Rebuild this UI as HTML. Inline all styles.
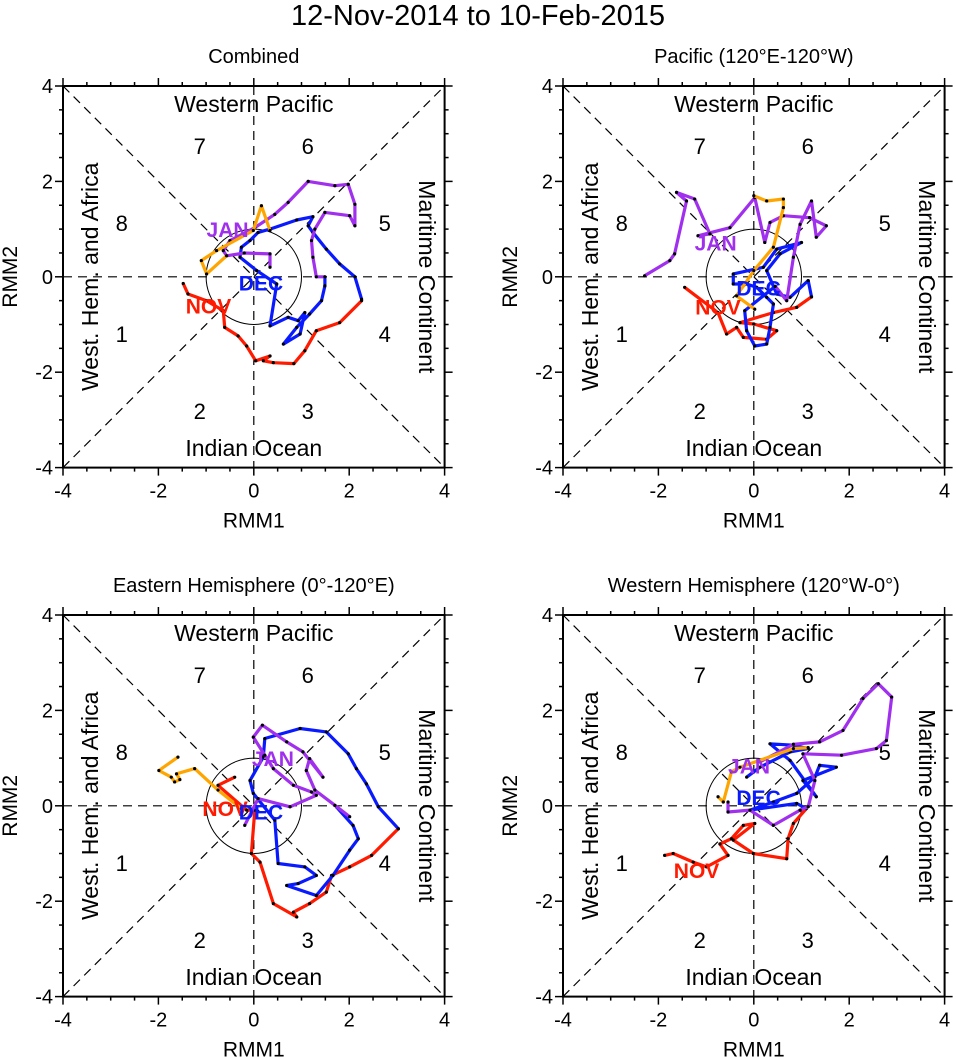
<!DOCTYPE html>
<html><head><meta charset="utf-8"><style>
body{margin:0;background:#fff;}
svg{display:block;font-family:"Liberation Sans",Arial,sans-serif;}
</style></head><body>
<svg id="chart" width="956" height="1057" viewBox="0 0 956 1057">
<text x="478" y="25" text-anchor="middle" font-size="29">12-Nov-2014 to 10-Feb-2015</text>
</svg>
<script>
const panelTitles=["Combined","Pacific (120°E-120°W)","Eastern Hemisphere (0°-120°E)","Western Hemisphere (120°W-0°)"];
const tickValues=[-4,-2,0,2,4];
const monthNames=["NOV","DEC","JAN",""];
const monthColors=["#ff1a00","#0a1aff","#a030ee","#ffa500"];
// panel 1
const p1Nov=[[-1.48,-0.14],[-1.38,-0.36],[-0.99,-0.5],[-0.64,-0.71],[-0.61,-1.06],[-0.33,-1.24],[-0.15,-1.45],[0.04,-1.76],[0.34,-1.66],[0.2,-1.76],[0.41,-1.8],[0.84,-1.82],[1.07,-1.55],[1.31,-1.13],[1.8,-0.96],[2.26,-0.5]];
const p1Dec=[[2.26,-0.47],[2.12,0],[1.8,0.27],[1.52,0.58],[1.24,0.93],[1.14,1.07],[1.24,1.26],[0.9,1.19],[0.34,1.0],[0.09,0.93],[-0.08,0.76],[-0.26,0.62],[-0.29,0.41],[0.06,0.13],[0.48,-0.15],[0.34,-1.03],[0.72,-0.85],[0.93,-0.92],[1.07,-0.75],[0.97,-1.2],[0.62,-1.41],[0.9,-1.06],[1.17,-0.78],[1.42,-0.5],[1.49,-0.19],[1.49,0]];
const p1Jan=[[1.49,0],[1.31,0],[1.24,0.41],[1.21,0.76],[1.28,1.0],[1.49,1.35],[2.01,1.28],[2.12,1.07],[2.12,1.52],[1.98,1.94],[1.7,1.91],[1.14,2.0],[0.72,1.56],[0.44,1.31],[0.02,1.03],[-0.5,0.76],[-0.64,0.55],[-0.57,0.44],[-0.2,0.5],[0.34,0.48],[0.34,0.2]];
const p1Feb=[[-0.57,0.44],[-0.99,0.06],[-1.1,0.34],[-0.78,0.55],[-0.01,0.97],[0.16,1.49],[0.34,0.97]];
// panel 2
const p2Nov=[[-1.45,-0.22],[-0.75,-0.75],[-0.57,-1.2],[-0.36,-1.06],[-0.22,-1.27],[0.27,-1.31],[0.48,-1.13],[0,-0.99],[-0.29,-0.96],[0.41,-0.75],[0.9,-0.64],[1.21,-0.42]];
const p2Dec=[[1.21,-0.42],[1.14,-0.08],[0.76,-0.43],[0.48,-0.36],[0.27,0.13],[0.55,0.48],[1.0,0.72],[0.48,0.58],[0.2,0.2],[-0.43,0.06],[-0.43,-0.15],[-0.15,-0.15],[0.06,-0.22],[0.27,-0.43],[0.41,-0.57],[0.34,-1.06],[0.27,-1.41],[0.02,-1.45],[-0.15,-1.13],[-0.19,-0.71],[0.45,-0.2]];
const p2Jan=[[0.45,-0.2],[0.69,-0.5],[0.83,0.41],[0.97,1.1],[1.21,1.59],[1.31,0.83],[1.52,1.07],[1.17,1.24],[0.62,1.28],[0.34,1.14],[0.23,0.72],[0.02,1.66],[-0.5,1.03],[-1.17,0.86],[-0.92,0.9],[-1.24,1.63],[-1.62,1.77],[-1.41,1.59],[-1.66,0.48],[-1.76,0.34],[-2.29,0.02]];
const p2Feb=[[0.02,-0.68],[-0.36,-0.4],[0,0.13],[0.41,0.62],[0.62,1.45],[0.62,1.63],[0.27,1.59],[0,1.7]];
// panel 3
const p3Nov=[[-0.4,0.6],[-0.75,0.43],[-0.15,-0.09],[0.02,-0.09],[-0.05,-1.0],[0.13,-1.18],[0.41,-2.05],[0.9,-2.33],[0.83,-2.23],[1.17,-2.05],[1.52,-1.81],[1.63,-1.46],[2.01,-1.28],[2.47,-1.04],[3.03,-0.48]];
const p3Dec=[[3.03,-0.48],[2.61,-0.02],[2.36,0.46],[2.15,0.78],[1.98,1.09],[1.52,1.55],[0.97,1.62],[0.23,1.41],[0.2,1.02],[-0.08,0.53],[-0.01,0.26],[0.44,-0.3],[0.51,-1.21],[1.07,-1.28],[1.31,-1.46],[0.93,-1.63],[0.69,-1.67],[1.31,-1.88],[1.66,-1.46],[2.01,-0.93],[2.19,-0.69],[2.08,-0.41],[1.73,-0.02]];
const p3Jan=[[-0.19,-0.41],[0.09,0.15],[0.76,-0.02],[1.31,0.22],[1.21,0.29],[0.83,0.43],[0.41,0.78],[0.23,1.06],[-0.01,1.44],[0.18,1.69],[0.69,1.34],[1.03,1.13],[1.45,0.6],[1.17,0.99],[1.1,0.74],[1.28,0.33],[1.7,0.01],[2.01,-0.23]];
const p3Feb=[[-1.59,1.02],[-1.99,0.74],[-1.73,0.6],[-1.66,0.5],[-1.55,0.55],[-1.62,0.67],[-1.24,0.78],[-0.75,0.33],[-0.26,-0.06]];
// panel 4
const p4Nov=[[-1.87,-1.04],[-1.69,-1.0],[-1.27,-1.18],[-0.99,-1.28],[-0.54,-1.04],[-0.71,-0.8],[-0.47,-0.69],[-0.22,-0.41],[0.02,-0.37],[-0.43,-0.72],[-0.01,-1.0],[0.69,-1.11],[0.72,-0.69],[0.83,-0.37],[1.1,-0.06]];
const p4Dec=[[1.1,-0.06],[0.9,0.05],[-0.08,-0.09],[0.41,0.08],[0.9,0.26],[1.28,0.6],[1.38,0.85],[1.73,0.81],[1.03,0.53],[1.31,0.19],[0.76,0.95],[0.34,1.3],[0.83,1.27],[1.14,1.2],[0.76,1.13],[0.13,0.81],[-0.15,0.6]];
const p4Jan=[[-0.54,0.08],[-0.54,-0.13],[-0.08,-0.09],[0.41,-0.41],[0.97,-0.09],[1.14,-0.02],[1.28,0.53],[1.03,1.09],[1.84,1.06],[2.57,1.2],[2.78,1.37],[2.89,2.28],[2.61,2.56],[2.29,2.25],[1.87,1.58],[1.38,1.34],[0.83,1.29],[0.13,0.92]];
const p4Feb=[[-0.75,0.19],[-0.64,0.08],[-0.47,0.71],[-0.29,0.81],[0.83,1.2],[1.14,1.22]];
const series=[[p1Nov,p1Dec,p1Jan,p1Feb],[p2Nov,p2Dec,p2Jan,p2Feb],[p3Nov,p3Dec,p3Jan,p3Feb],[p4Nov,p4Dec,p4Jan,p4Feb]];
const monthLabelPos=[[[-0.95,-0.6],[0.15,-0.12],[-0.55,1.0]],[[-0.75,-0.62],[0.1,-0.22],[-0.8,0.72]],[[-0.6,-0.05],[0.15,-0.12],[0.4,1.0]],[[-1.2,-1.35],[0.1,0.18],[-0.1,0.85]]];

const NS="http://www.w3.org/2000/svg";
const svg=document.getElementById("chart");
function mk(tag,attrs,parent,txt){const e=document.createElementNS(NS,tag);for(const k in attrs)e.setAttribute(k,attrs[k]);if(txt!==undefined)e.textContent=txt;(parent||svg).appendChild(e);return e;}
const S=47.7;
const origins=[[63,86],[563,86],[63,615],[563,615]];
origins.forEach((o,pi)=>{
  const L=o[0],T=o[1],W=8*S,cx=L+4*S,cy=T+4*S;
  const sx=v=>cx+v*S, sy=v=>cy-v*S;
  const g=mk("g",{});
  
  
  let t=mk("text",{x:cx,y:T-23,"text-anchor":"middle","font-size":20},g,panelTitles[pi]);
  
  
  const dash={stroke:"#000","stroke-width":1.2,"stroke-dasharray":"9,6",fill:"none"};
  mk("line",Object.assign({x1:L,y1:T,x2:L+W,y2:T+W},dash),g);
  mk("line",Object.assign({x1:L,y1:T+W,x2:L+W,y2:T},dash),g);
  mk("line",Object.assign({x1:L,y1:cy,x2:L+W,y2:cy},dash),g);
  mk("line",Object.assign({x1:cx,y1:T,x2:cx,y2:T+W},dash),g);
  mk("circle",{cx:cx,cy:cy,r:S,fill:"none",stroke:"#000","stroke-width":1},g);
  const lab=(x,y,s,txt,rot,nm)=>{const a={x:x,y:y,"text-anchor":"middle","font-size":s};if(rot)a.transform=`rotate(${rot} ${x} ${y})`;const e=mk("text",a,g,txt);};
  lab(cx,T+26,23,"Western Pacific",0,"region-label-western-pacific");
  lab(cx,T+370,23,"Indian Ocean",0,"region-label-indian-ocean");
  lab(L+35,cy,23,"West. Hem. and Africa",-90,"region-label-west-hem");
  lab(L+356,cy,23,"Maritime Continent",90,"region-label-maritime");
  const ph=[["7",-54,-131],["6",54,-131],["8",-132,-54],["5",131,-54],["1",-132,57],["4",131,57],["2",-54,134],["3",54,134]];
  ph.forEach(p=>lab(cx+p[1],cy+p[2]+8,22,p[0],0,"phase-"+p[0]));
  series[pi].forEach((pts,mi)=>{
    const d=pts.map((p,i)=>(i?"L":"M")+sx(p[0]).toFixed(1)+","+sy(p[1]).toFixed(1)).join("");
    const path=mk("path",{d:d,fill:"none",stroke:monthColors[mi],"stroke-width":3.2,"stroke-linejoin":"round"},g);
    
    
    pts.forEach(p=>{const c=mk("circle",{cx:sx(p[0]),cy:sy(p[1]),r:1.6,fill:"#000"},g);
      
      });
  });
  monthLabelPos[pi].forEach((p,mi)=>{
    const e=mk("text",{x:sx(p[0]),y:sy(p[1])+8,"text-anchor":"middle","font-size":21,"font-weight":"bold",fill:monthColors[mi]},g,monthNames[mi]);
    
    
  });
  const fr=mk("rect",{x:L,y:T,width:W,height:W,fill:"none",stroke:"#000","stroke-width":2},g);
  
  
  for(let v=-4;v<=4.001;v+=0.5){
    const len=(Math.abs(v%2)<0.01)?8:4;
    mk("line",{x1:sx(v),y1:T+W,x2:sx(v),y2:T+W+len,stroke:"#000","stroke-width":1.5},g);
    mk("line",{x1:sx(v),y1:T,x2:sx(v),y2:T-len,stroke:"#000","stroke-width":1.5},g);
    mk("line",{x1:L,y1:sy(v),x2:L-len,y2:sy(v),stroke:"#000","stroke-width":1.5},g);
    mk("line",{x1:L+W,y1:sy(v),x2:L+W+len,y2:sy(v),stroke:"#000","stroke-width":1.5},g);
  }
  tickValues.forEach(v=>{
    const a=mk("text",{x:sx(v),y:T+W+30,"text-anchor":"middle","font-size":20},g,String(v));
    
    
    const b=mk("text",{x:L-10,y:sy(v)+7,"text-anchor":"end","font-size":20},g,String(v));
    
    
  });
  const xt=mk("text",{x:cx,y:T+W+60,"text-anchor":"middle","font-size":21},g,"RMM1");
  
  
  const yx=L-46,yy=cy;
  const yt=mk("text",{x:yx,y:yy,"text-anchor":"middle","font-size":21,transform:`rotate(-90 ${yx} ${yy})`},g,"RMM2");
  
  
});
</script>
</body></html>
